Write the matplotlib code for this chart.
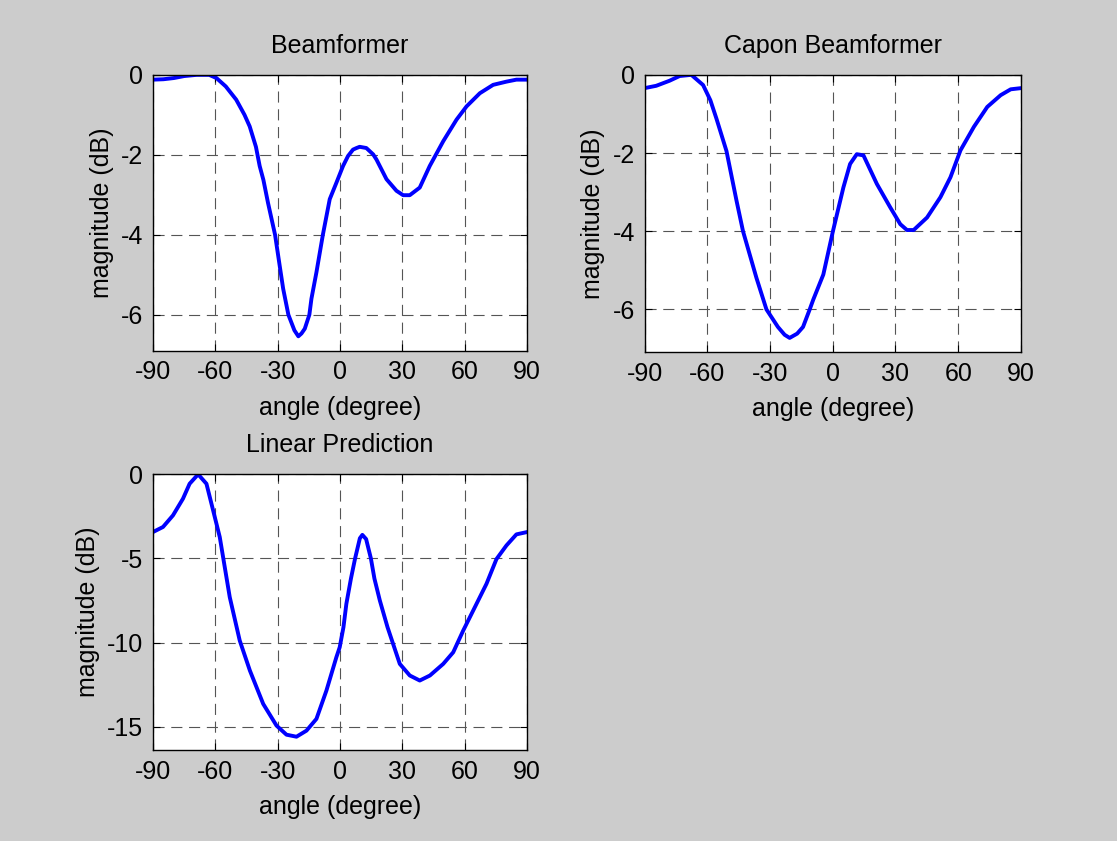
import matplotlib
matplotlib.use("Agg")
import matplotlib.pyplot as plt

plt.rcParams['font.family'] = ['Liberation Sans', 'DejaVu Sans']
plt.rcParams['axes.unicode_minus'] = False

# angle (deg) / magnitude (dB) samples for each spectrum estimate
bf_angle = [-90, -85, -80, -75, -69, -63, -59.5, -55, -50, -46, -43.5, -40.5, -38.7, -36.9,
            -34.7, -31.3, -29, -27.4, -24.9, -22, -20.1, -18.6, -17, -14.8, -13.8, -11.4, -8.3,
            -5, -1.8, 1.4, 3.8, 6.2, 7.9, 9.4, 12.6, 15.9, 17.5, 22.3, 27.1, 30.3, 33.5, 38.3,
            43.1, 49.6, 56, 60.8, 67.2, 73.6, 80, 84.8, 90]
bf_mag = [-0.12, -0.11, -0.08, -0.03, 0, 0, -0.08, -0.29, -0.62, -1.0, -1.29, -1.8, -2.28, -2.63,
          -3.2, -4.0, -4.8, -5.35, -6.0, -6.39, -6.54, -6.47, -6.35, -6.0, -5.6, -4.94, -4.0,
          -3.11, -2.7, -2.28, -2.03, -1.87, -1.83, -1.8, -1.83, -1.99, -2.12, -2.61, -2.9, -3.01, -3.01, -2.82,
          -2.28, -1.66, -1.12, -0.79, -0.46, -0.25, -0.17, -0.12, -0.12]

capon_angle = [-90, -84.4, -78, -73.2, -67.6, -62, -58.5, -55.6, -50.8, -46, -42.9, -36.5,
               -31.7, -26.2, -23, -20.6, -17, -14.2, -11.0, -9.3, -4.5, 0.1, 5.1, 8.3, 11.5,
               14.7, 21.1, 27.5, 32.3, 35.5, 38.7, 45.1, 51.5, 56.3, 61.1, 67.5, 73.9, 80.3,
               85.1, 90]
capon_mag = [-0.34, -0.28, -0.15, -0.03, 0, -0.26, -0.65, -1.12, -1.95, -3.22, -4.0, -5.19,
             -6.0, -6.45, -6.65, -6.73, -6.62, -6.45, -6.0, -5.75, -5.11, -4.0, -2.88, -2.28, -2.03,
             -2.06, -2.79, -3.39, -3.82, -3.97, -3.97, -3.65, -3.13, -2.62, -1.93, -1.33, -0.82, -0.52,
             -0.37, -0.34]

lp_angle = [-90, -85.2, -80.4, -75.6, -72.4, -68.3, -64.3, -61.1, -57.9, -53.1, -48.3, -43.4,
            -37, -30.6, -25.8, -21, -16.2, -11.4, -6.6, -1.8, -0.2, 1.6, 3, 5.2, 7.2, 9.5,
            10.7, 12.5, 14.8, 16.5, 19.1, 22.8, 28.7, 33.5, 38.3, 43.2, 49.6, 54.4, 59.2, 64,
            70.4, 75.2, 80, 84.8, 90]
lp_mag = [-3.43, -3.13, -2.44, -1.45, -0.56, 0, -0.56, -2.14, -3.73, -7.3, -9.88, -11.67,
          -13.65, -14.94, -15.48, -15.6, -15.24, -14.54, -12.86, -10.87, -10.28, -9.09, -7.7, -6.2, -5.0, -3.8,
          -3.6, -3.85, -5.0, -6.2, -7.5, -9.09, -11.27, -11.96, -12.26, -11.96, -11.27, -10.58, -9.29, -8.1,
          -6.51, -5.04, -4.23, -3.57, -3.43]

xticks = [-90, -60, -30, 0, 30, 60, 90]

fig = plt.figure(figsize=(11.17, 8.41), dpi=100, facecolor='#cccccc')

ax1 = fig.add_axes([0.137, 0.583, 0.335, 0.328])
ax2 = fig.add_axes([0.577, 0.581, 0.337, 0.330])
ax3 = fig.add_axes([0.137, 0.108, 0.335, 0.328])

panels = [
    (ax1, bf_angle, bf_mag, 'Beamformer', (-6.9, 0), [-6, -4, -2, 0]),
    (ax2, capon_angle, capon_mag, 'Capon Beamformer', (-7.1, 0), [-6, -4, -2, 0]),
    (ax3, lp_angle, lp_mag, 'Linear Prediction', (-16.4, 0), [-15, -10, -5, 0]),
]

for ax, x, y, title, ylim, yticks in panels:
    ax.plot(x, y, color='#0000ff', lw=2.8, solid_joinstyle='round')
    ax.set_xlim(-90, 90)
    ax.set_ylim(*ylim)
    ax.set_xticks(xticks)
    ax.set_yticks(yticks)
    ax.grid(True, color='#555555', linestyle=(0, (10, 6)), linewidth=0.8)
    ax.tick_params(direction='in', length=5, width=0.8, top=True, right=True,
                   labelsize=18, pad=7)
    for sp in ax.spines.values():
        sp.set_linewidth(1.0)
    ax.set_title(title, fontsize=18, pad=16)
    ax.set_xlabel('angle (degree)', fontsize=18, labelpad=8)
    ax.set_ylabel('magnitude (dB)', fontsize=18, labelpad=5)

fig.savefig('out.png', dpi=100, facecolor=fig.get_facecolor())
